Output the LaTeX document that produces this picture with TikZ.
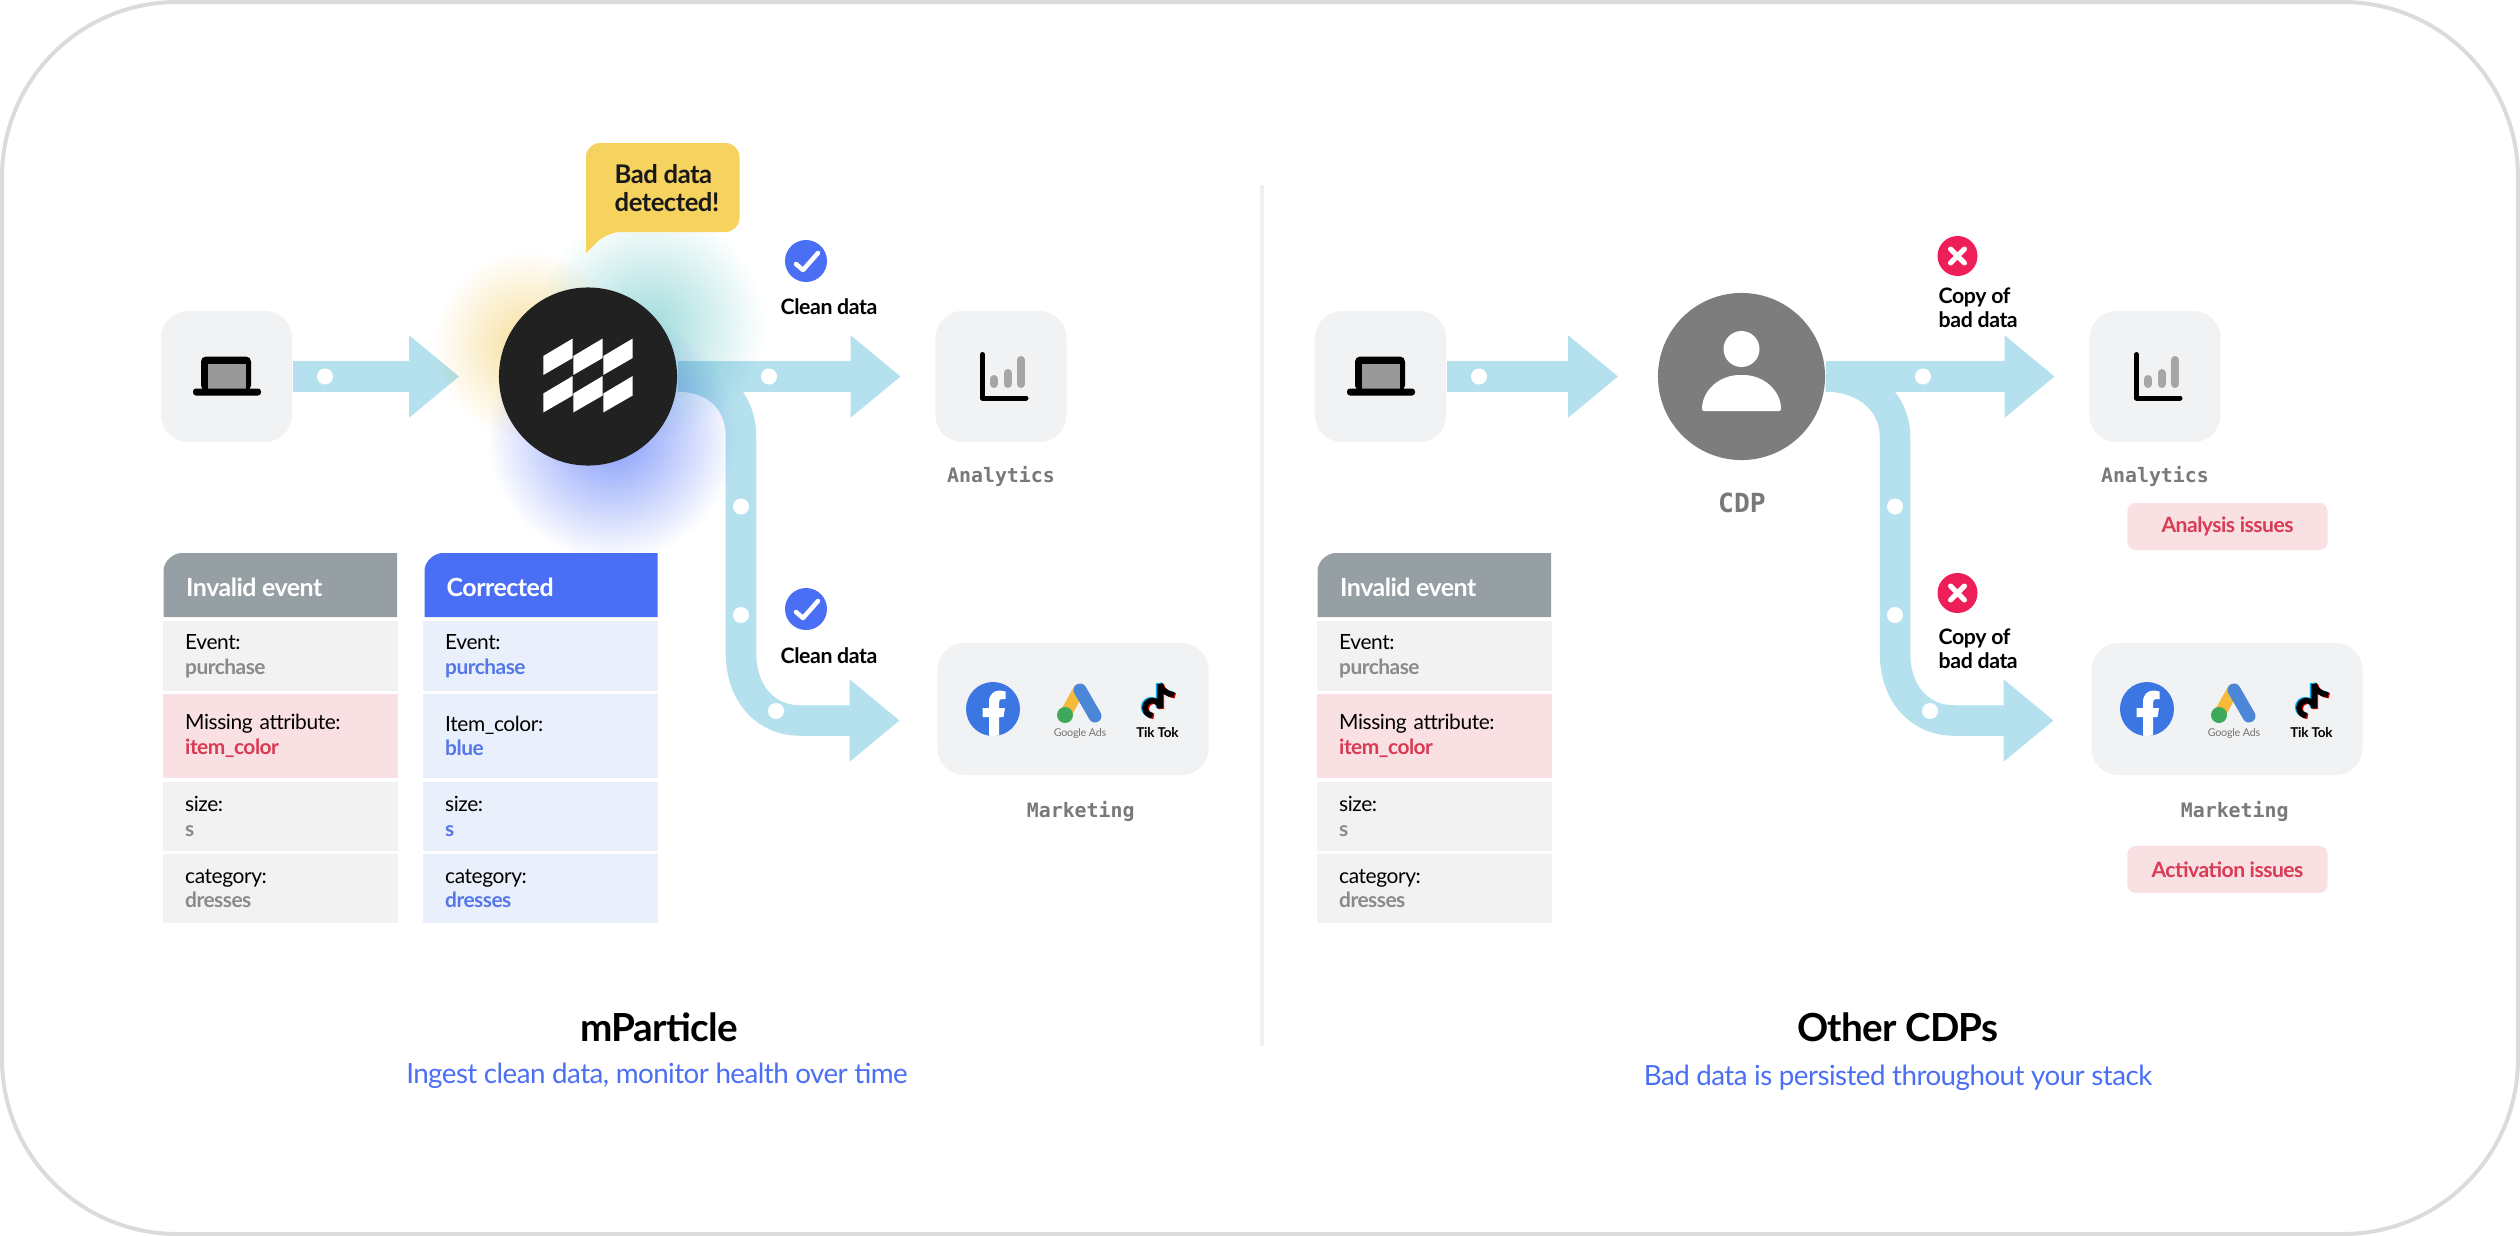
\documentclass[tikz,border=0pt]{standalone}
\usepackage{fontspec}
\setmainfont{Lato}[LetterSpace=-2]
\newfontfamily\latomed{Lato Bold}[LetterSpace=-2.5]
\newfontfamily\codefont{DejaVu Sans Mono}
\usetikzlibrary{arrows.meta,backgrounds}
\definecolor{flowblue}{HTML}{B5E1EE}
\definecolor{boxgray}{HTML}{F1F2F4}
\definecolor{rowgray}{HTML}{F2F2F2}
\definecolor{rowred}{HTML}{F9E0E3}
\definecolor{rowblue}{HTML}{EAF0FB}
\definecolor{headgray}{HTML}{969FA3}
\definecolor{mainblue}{HTML}{4A6FF5}
\definecolor{valgray}{HTML}{8A8A8A}
\definecolor{valred}{HTML}{D93A54}
\definecolor{valblue}{HTML}{5577EA}
\definecolor{labgray}{HTML}{77797B}
\definecolor{bubblefill}{HTML}{F6D25E}
\definecolor{glowyellow}{HTML}{F7DE9A}
\definecolor{glowteal}{HTML}{A2DCDC}
\definecolor{glowblue}{HTML}{8098FA}
\tikzset{
  flow/.style={draw=flowblue,line width=.305cm,-{Triangle[length=.5cm,width=.79cm]}},
  flowdot/.style={circle,fill=white,minimum size=.16cm,inner sep=0},
  iconbox/.style={fill=boxgray,rounded corners=.27cm,minimum width=1.31cm,minimum height=1.31cm,inner sep=0},
  adsbox/.style={iconbox,minimum width=2.71cm,minimum height=1.32cm},
  glow/.style={blend mode=multiply,inner color=#1,outer color=white},
  smalltext/.style={font=\fontsize{6.05}{6.9}\selectfont\bfseries,align=left,text=black,inner sep=0},
  toolname/.style={font=\fontsize{5.65}{7}\codefont\bfseries,text=labgray,inner sep=0},
  rowcell/.style={anchor=west,text width=1.9cm,inner xsep=.225cm,inner ysep=0,align=left,
    font=\fontsize{5.95}{6.97}\selectfont},
  headtext/.style={anchor=west,font=\fontsize{7.1}{8}\selectfont\bfseries,text=white,inner sep=0},
  issue/.style={fill=rowred,rounded corners=.08cm,minimum width=2cm,minimum height=.47cm,inner sep=0,
    text=valred,font=\fontsize{6}{7}\latomed},
  title/.style={font=\fontsize{11}{13}\selectfont\bfseries,inner sep=0},
  subtitle/.style={font=\fontsize{7.9}{10}\selectfont,text=mainblue,inner sep=0},
  laptopicon/.pic={
    \fill[black,rounded corners=.05cm] (-25.5,-20) rectangle (24.5,14);
    \fill[black!40] (-18.5,-13) rectangle (19.5,12);
    \fill[black,rounded corners=.03cm] (-33.5,12) rectangle (34.5,19);
  },
  charticon/.pic={
    \draw[black,line width=.05cm,line cap=round,line join=round] (-18.5,-22)--(-18.5,21.5)--(25,21.5);
    \foreach \x/\y in {-7/2.5,6.5/-3.5,20/-16.5}
      \draw[black!35,line width=.08cm,line cap=round] (\x,\y)--(\x,7.5);
  },
  adsicons/.pic={
    % facebook
    \fill[fbblue] (-80,0) circle (27);
    \begin{scope}[shift={(-80,0)}]
      \clip (0,0) circle (27);
      \fill[white] (-4,28)--(-4,8)--(-10.5,8)--(-10.5,-1)--(-4,-1)--(-4,-7)
        .. controls (-4,-15) and (1,-18.5) .. (7,-18.5)--(12.5,-17.5)--(12.5,-10)--(9,-10)
        .. controls (7,-10) and (6,-9) .. (6,-6)--(6,-1)--(12,-1)--(10.5,8)--(6,8)--(6,28)--cycle;
    \end{scope}
    % google ads
    \draw[adsyellow,line width=.12cm,line cap=round] (6,-19)--(-8,6);
    \draw[adsblue,line width=.13cm,line cap=round] (7,-19)--(22,7);
    \fill[adsgreen] (-8,6) circle (8);
    \node[font=\fontsize{3.05}{4}\selectfont,text=black!55,inner sep=0] (adsname) at (7,24.5) {Google Ads};
    % tik tok
    \foreach \c/\o in {cyan/-1.3,red!85!black/1.3,black/0}
      \draw[\c,line width=.055cm,shift={(\o,\o*.6)}] (87,-25)--(87,-1) arc (0:-270:7.5)
        (87,-25) .. controls (88,-19) and (94,-15) .. (101,-14);
    \node[font=\fontsize{3.85}{4}\selectfont\bfseries,inner sep=0] (tokname) at (84.5,23.5) {Tik Tok};
  },
  okmark/.pic={
    \node[circle,fill=mainblue,minimum size=.42cm,inner sep=0] (dot) at (0,0) {};
    \draw[white,line width=.045cm,line cap=round,line join=round] (-10,3)--(-3,9)--(12,-8);
  },
  badmark/.pic={
    \node[circle,fill=badred,minimum size=.4cm,inner sep=0] (dot) at (0,0) {};
    \draw[white,line width=.05cm,line cap=round] (-7,-7)--(7,7) (-7,7)--(7,-7);
  },
  zlogo/.pic={
    \foreach \c in {0,30,60}
      \foreach \r in {0,37.5}
        \fill[white] (\c-44.7,\r-20.5)--(\c-15.3,\r-38)--(\c-15.3,\r-18.5)--(\c-44.7,\r-1.5)--cycle;
  },
}
\definecolor{fbblue}{HTML}{3B76E3}
\definecolor{adsyellow}{HTML}{F5BA3C}
\definecolor{adsblue}{HTML}{4B87D6}
\definecolor{adsgreen}{HTML}{3FA95B}
\definecolor{badred}{HTML}{EE1F58}
\begin{document}
\begin{tikzpicture}[x=.01cm,y=-.01cm]
\useasboundingbox (0,0) rectangle (2520,1236);
\draw[black!14,line width=.04cm,rounded corners=1.75cm] (2,2) rectangle (2518,1234);
\draw[black!6,line width=.04cm] (1262,185)--(1262,1046);

% both sides share the layout, the right one sits 1154 further on
\foreach \s/\dx in {A/0,B/1154}{
  \node[iconbox] (laptop\s) at (226.5+\dx,376.5) {};
  \pic at (laptop\s) {laptopicon};
  \node[iconbox] (charts\s) at (1001+\dx,376.5) {};
  \pic at (charts\s) {charticon};
  \node[toolname] (chartsname\s) at (1001+\dx,476) {Analytics};
  \node[adsbox] (ads\s) at (1073+\dx,709) {};
  \pic (icons\s) at (ads\s) {adsicons};
  \node[toolname] (adsname\s) at (1080.7+\dx,811) {Marketing};
}
\node[circle,fill=black!87,minimum size=1.78cm,inner sep=0] (hubA) at (588,376.5) {};
\pic at (hubA) {zlogo};
\node[circle,fill=black!51,minimum size=1.67cm,inner sep=0] (hubB) at (1741.5,376.5) {};
\fill[white] (hubB)++(0,-27.5) circle (18);
\fill[white,rounded corners=.02cm] (1702,411) .. controls (1702,390) and (1720,375) .. (1741.5,375)
  .. controls (1763,375) and (1781,390) .. (1781,411)--cycle;
\node[toolname,font=\fontsize{7.5}{9}\codefont\bfseries] (cdpname) at (1742,503) {CDP};

\begin{pgfonlayer}{background}
\foreach \s/\dx in {A/0,B/1154}{
  \draw[flow,shorten >=.39cm] (laptop\s) -- (hub\s);
  \draw[flow,shorten >=.34cm] (hub\s) -- (charts\s);
  \coordinate (trunk\s) at (741+\dx,437);
  \coordinate (knee\s) at (741+\dx,653);
  \coordinate (foot\s) at (800+\dx,720.5);
  \draw[flow,shorten >=.37cm] (hub\s.east) .. controls +(38,0) and +(0,-37) .. (trunk\s) -- (knee\s)
    .. controls +(0,40) and +(-35,0) .. (foot\s) -- (foot\s -| ads\s.west);
  \node[flowdot] (dota\s) at (325+\dx,376.5) {};
  \node[flowdot] (dotb\s) at (769+\dx,376.5) {};
  \node[flowdot] (dotc\s) at (741+\dx,506.5) {};
  \node[flowdot] (dotd\s) at (741+\dx,615) {};
  \node[flowdot] (dote\s) at (776+\dx,711) {};
}
\shade[glow=glowyellow] (528,345) circle (95);
\shade[glow=glowteal] (650,325) circle (115);
\shade[glow=glowblue] (612,435) circle (125);
\end{pgfonlayer}

% speech bubble
\fill[bubblefill,rounded corners=.14cm] (586,200)--(586,143)--(739.5,143)--(739.5,232)--(607,232)[sharp corners]--(586,253)--cycle;
\node[anchor=west,align=left,inner sep=0,font=\fontsize{7.3}{7.95}\selectfont\bfseries,text=black!90] (alert) at (614,188) {Bad data\\detected!};

% marks on the flows
\pic (okA) at (806,261) {okmark};
\pic (okB) at (806,609) {okmark};
\pic (badA) at (1957.5,256) {badmark};
\pic (badB) at (1957.5,593) {badmark};
\node[smalltext] (cleanA) at (829,307) {Clean data};
\node[smalltext] (cleanB) at (829,656) {Clean data};
\node[smalltext,anchor=west] (copyA) at (1938,308) {Copy of\\bad data};
\node[smalltext,anchor=west] (copyB) at (1938,648.5) {Copy of\\bad data};
\node[issue] (issueA) at (2227.5,526.5) {Analysis issues\hspace{.2cm}};
\node[issue] (issueB) at (2227.5,869.5) {Activation issues};

% tables
\foreach \s/\dx in {A/0,C/1154}{
  \fill[headgray] (163.5+\dx,617)--(163.5+\dx,571) .. controls (163.5+\dx,561) and (173.5+\dx,553) .. (181.5+\dx,553)--(397+\dx,553)--(397+\dx,617)--cycle;
  \node[headtext] (invalid\s) at (185.5+\dx,587) {Invalid event};
  \foreach \n/\cy/\h/\lab/\val/\f/\c in {a/656/.70/Event:/purchase/rowgray/valgray,
      b/736/.84/Missing attribute:/item\_color/rowred/valred,
      c/816.5/.69/size:/s/rowgray/valgray,
      d/888.5/.69/category:/dresses/rowgray/valgray}
    \node[rowcell,fill=\f,minimum height=\h cm] (row\n\s) at (162+\dx,\cy) {\lab\\{\latomed\color{\c}\val}};
}
\fill[mainblue] (424.5,617)--(424.5,571) .. controls (424.5,561) and (434.5,553) .. (442.5,553)--(657.5,553)--(657.5,617)--cycle;
\node[headtext] (fixed) at (446,587) {Corrected};
\foreach \n/\cy/\h/\lab/\val in {a/656/.70/Event:/purchase,
    b/736/.84/Item\_color:/blue,
    c/816.5/.69/size:/s,
    d/888.5/.69/category:/dresses}
  \node[rowcell,fill=rowblue,minimum height=\h cm] (fix\n) at (422,\cy) {\lab\\{\latomed\color{valblue}\val}};

% captions
\node[title] (titleA) at (659,1027) {mParticle};
\node[subtitle] (subA) at (657,1076) {Ingest clean data, monitor health over time};
\node[title] (titleB) at (1898,1027) {Other CDPs};
\node[subtitle] (subB) at (1898,1078) {Bad data is persisted throughout your stack};
\end{tikzpicture}
\end{document}
